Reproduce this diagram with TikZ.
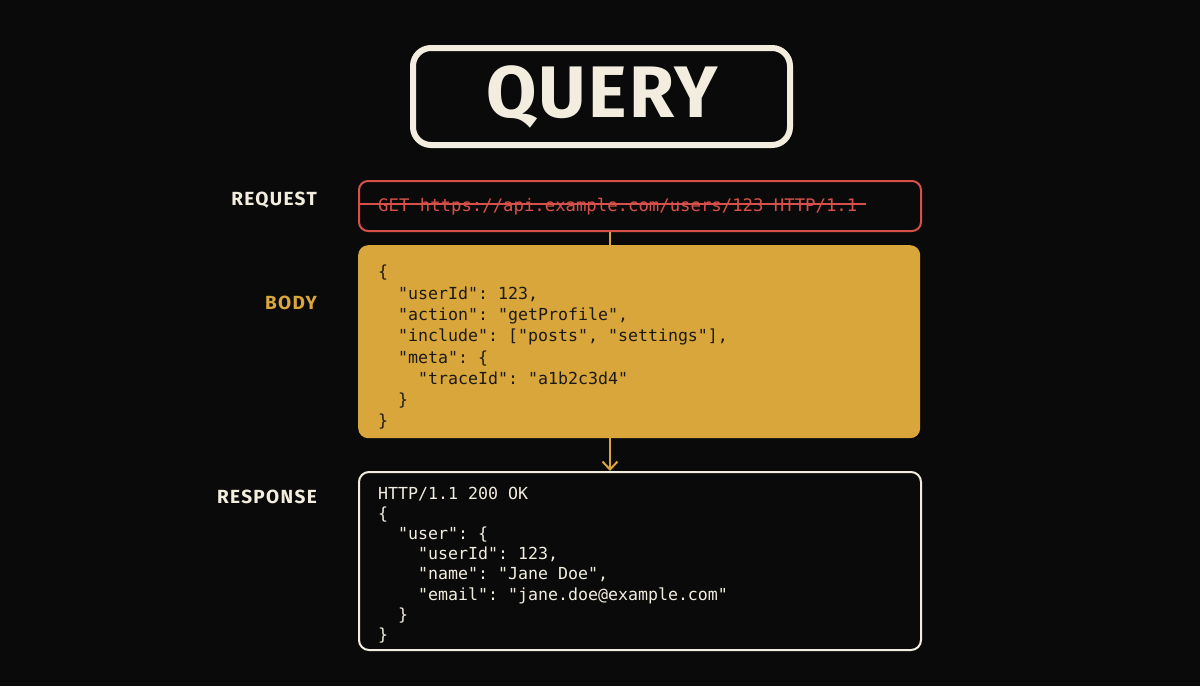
\documentclass[tikz,border=0pt]{standalone}
\usepackage{fontspec}
\setsansfont{Fira Sans}
\setmonofont{DejaVu Sans Mono}
\newfontfamily\labelfont[LetterSpace=7]{Fira Sans}
\newfontfamily\titlefont[LetterSpace=3]{Fira Sans}
\usetikzlibrary{arrows.meta}
\definecolor{bg}{HTML}{0A0A0A}
\definecolor{cream}{HTML}{F2EDDF}
\definecolor{amber}{HTML}{D9A63C}
\definecolor{redline}{HTML}{D8504A}
\definecolor{ink}{HTML}{1C1A16}
\tikzset{
  sidelabel/.style={anchor=east, inner sep=0pt, font=\labelfont\bfseries\fontsize{19}{22}\selectfont},
  code/.style={anchor=north west, inner sep=0pt, align=left, font=\ttfamily\fontsize{16.6}{21.3}\selectfont},
  panel/.style={rounded corners=10pt, line width=2pt},
}
\begin{document}
\begin{tikzpicture}[x=1pt,y=-1pt]
\fill[bg] (0,0) rectangle (1200,686);
\useasboundingbox (0,0) rectangle (1200,686);

% title
\draw[cream, line width=6pt, rounded corners=18pt] (413,48) rectangle (790,145);
\node[text=cream, font=\titlefont\bfseries\fontsize{73}{80}\selectfont, inner sep=0pt] (title) at (602,97) {QUERY};

% labels
\node[sidelabel, text=cream] (lreq) at (317,200) {REQUEST};
\node[sidelabel, text=amber] (lbody) at (317,303) {BODY};
\node[sidelabel, text=cream] (lresp) at (317,497) {RESPONSE};

% request
\node[draw=redline, panel, line width=2pt, rounded corners=9pt, minimum width=562pt, minimum height=50pt, anchor=north west, inner sep=0pt] (req) at (358,180) {};
\node[anchor=base west, inner sep=0pt, text=redline, font=\ttfamily\fontsize{17.3}{21}\selectfont] (reqtext) at (378,211) {GET https://api.example.com/users/123 HTTP/1.1};
\draw[redline, line width=2.5pt] (req.west |- 0,204) -- (866,204);

% body
\node[fill=amber, rounded corners=10pt, minimum width=562pt, minimum height=193pt, anchor=north west, inner sep=0pt] (body) at (358,245) {};
\node[code, text=ink] (bodytext) at (378,265) {\{\\
\phantom{xx}"userId": 123,\\
\phantom{xx}"action": "getProfile",\\
\phantom{xx}"include": ["posts", "settings"],\\
\phantom{xx}"meta": \{\\
\phantom{xxxx}"traceId": "a1b2c3d4"\\
\phantom{xx}\}\\
\}};

% response
\node[draw=cream, panel, minimum width=562pt, minimum height=178pt, anchor=north west, inner sep=0pt] (resp) at (358,471) {};
\node[code, text=cream, font=\ttfamily\fontsize{16.6}{20.1}\selectfont] (resptext) at (378,487) {HTTP/1.1 200 OK\\
\{\\
\phantom{xx}"user": \{\\
\phantom{xxxx}"userId": 123,\\
\phantom{xxxx}"name": "Jane Doe",\\
\phantom{xxxx}"email": "jane.doe@example.com"\\
\phantom{xx}\}\\
\}};

% connectors
\draw[amber, line width=2pt] (req.south -| 610,0) -- (body.north -| 610,0);
\draw[amber, line width=2pt, -{Straight Barb[length=8pt,width=15pt]}] (body.south -| 610,0) -- (resp.north -| 610,0);
\end{tikzpicture}
\end{document}
